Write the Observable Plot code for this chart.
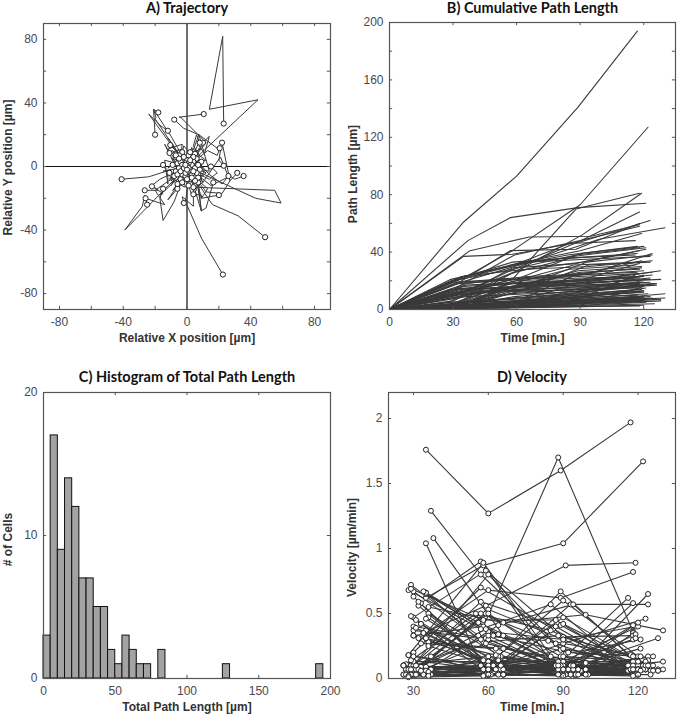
<!DOCTYPE html>
<html><head><meta charset="utf-8">
<script src="https://cdn.jsdelivr.net/npm/d3@7"></script>
<script src="https://cdn.jsdelivr.net/npm/@observablehq/plot@0.6"></script>
<style>
html,body{margin:0;padding:0;background:#fff}
#page{position:relative;width:677px;height:716px;overflow:hidden;background:#fff}
#page svg{position:absolute;background:transparent}
</style></head><body><div id="page"></div>
<script>
// one row per cell, same order in every list; four time points per cell
const cellTimes=[[35,60,89,117],[35,58,90,122],[30,58,88,118],[34,59,91,119],[37,57,89,121],[32,60,89,118],[35,58,90,123],[38,66,95,118],[33,57,88,118],[30,59,90,118],[36,66,99,130],[35,60,90,119],[28,57,85,116],[29,56,84,117],[30,58,88,118],[32,60,90,120],[30,60,91,121],[28,58,88,118],[35,62,92,121],[36,65,95,124],[29,58,87,117],[30,57,86,116],[33,63,93,124],[35,64,93,123],[32,60,90,119],[28,57,87,118],[29,59,89,118],[27,55,85,116],[31,60,89,119],[34,64,94,124],[35,64,94,123],[36,66,99,128],[30,60,90,120],[30,60,90,118],[36,64,94,124],[29,59,89,119],[28,57,87,117],[30,59,89,118],[35,65,95,124],[29,59,89,119],[33,63,93,123],[30,58,87,116],[35,63,93,123],[30,60,90,120],[28,56,85,116],[30,60,90,118],[35,64,97,128],[30,60,90,120],[30,60,90,119],[30,60,90,120],[31,60,90,120],[30,59,88,118],[30,60,89,120],[29,59,90,120],[27,57,87,117],[35,65,95,126],[34,64,94,125],[30,60,90,120],[30,60,89,118],[33,63,93,123],[26,60,90,120],[37,60,90,121],[29,59,89,119],[36,66,96,126],[26,60,90,119],[29,59,90,120],[32,60,90,120],[33,62,92,122],[28,58,88,118],[37,60,90,120],[26,58,88,118],[35,65,99,130],[27,57,87,117],[31,60,90,120],[26,60,90,120],[36,66,96,128],[33,63,93,123],[28,58,88,118],[37,60,90,120],[29,59,89,119],[27,57,87,120],[35,65,100,130],[31,60,90,120],[31,61,91,122],[26,60,90,121],[32,58,88,118],[36,66,99,128],[34,64,94,126],[33,66,96,124],[27,60,90,120],[36,66,96,125],[28,60,90,120],[28,58,88,118]];
const cellPathLengths=[[61,93,141,194],[22,41,73,127],[10,21,70,81],[12,26,52,81],[48,64,71,74],[10,29,47,68],[37,38.5,47,62],[41,50.5,51,59],[19,41,42,60],[14,38,48,58],[20,33,49,57],[23,32,41,53],[19,30,46,48],[21,30,38,44],[20,28,38,43],[18,21,39,44],[3,27,33,42],[5,29,32,41],[23,32,38,43],[18,23,25,39],[20,33,36,39],[6,25,36,38],[14,16,33,38],[23,33,35,37],[19,22,24,34],[2,19,31,33],[14,18,20,32],[3,17,28,31],[14,15,27,30],[23,28,30,34],[2,14,31,33],[10,17,21,27],[19,21,24,27],[1,17,26,28],[17,19,21,26],[3,5,25,29],[2,16,24,26],[12,21,23,25],[16,19,20,24],[1,16,21,23],[14,16,18,22],[1,3,6,24],[11,16,19,21],[3,5,19,23],[1,13,18,20],[2,17,20,22],[13,17,19,21],[4,8,12,24],[5,8,11,20],[11,20,22,23],[12,15,17,19],[2,13,16,18],[10,14,15,17],[1,2,15,19],[2,11,14,16],[11,13,14,17],[12,14,16,18],[1,2,3,16],[2,12,14,15],[9,16,17,19],[3,5,12,16],[5,6,8,15],[1,9,13,17],[9,11,13,18],[3,8,11,14],[4,6,10,13],[2,6,9,12],[3,6,8,11],[5,7,10,14],[2,4,9,13],[1,5,9,12],[3,5,7,11],[2,5,8,10],[2,5,7,9],[3,4,6,8],[1,3,5,7],[3,5,6,9],[2,4,6,8],[1,2,4,6],[2,3,6,7],[1,4,7,9],[2,5,6,8],[1,3,4,6],[3,4,5,7],[1,2,3,5],[2,4,7,9],[2,3,4,6],[1,2,5,7],[2,3,5,8],[1,3,5,6],[1,2,3,4],[0.5,1.5,2,3],[0.5,1,2,2.5]];
const cellVelocities=[[1.76,1.27,1.6,1.97],[0.62,0.87,1.04,1.67],[0.33,0.4,1.7,0.36],[0.35,0.56,0.87,0.89],[1.29,0.8,0.22,0.09],[0.31,0.68,0.62,0.82],[1.04,0.06,0.27,0.46],[1.08,0.33,0.02,0.35],[0.58,0.9,0.05,0.58],[0.47,0.83,0.32,0.33],[0.55,0.43,0.49,0.37],[0.65,0.36,0.3,0.4],[0.68,0.38,0.57,0.07],[0.72,0.33,0.29,0.18],[0.67,0.28,0.33,0.17],[0.56,0.11,0.6,0.17],[0.1,0.8,0.19,0.3],[0.18,0.89,0.1,0.3],[0.66,0.33,0.2,0.17],[0.5,0.17,0.07,0.65],[0.69,0.45,0.45,0.1],[0.2,0.7,0.38,0.07],[0.42,0.07,0.57,0.57],[0.66,0.34,0.07,0.07],[0.59,0.11,0.07,0.34],[0.07,0.59,0.4,0.06],[0.48,0.13,0.07,0.41],[0.11,0.5,0.37,0.1],[0.45,0.03,0.41,0.1],[0.67,0.17,0.07,0.13],[0.06,0.41,0.57,0.07],[0.28,0.23,0.12,0.31],[0.63,0.07,0.1,0.1],[0.03,0.53,0.3,0.07],[0.47,0.07,0.07,0.17],[0.1,0.07,0.67,0.13],[0.07,0.5,0.27,0.07],[0.4,0.31,0.07,0.07],[0.46,0.1,0.03,0.14],[0.03,0.5,0.17,0.07],[0.42,0.07,0.07,0.13],[0.03,0.07,0.1,0.62],[0.31,0.18,0.1,0.07],[0.1,0.07,0.47,0.13],[0.04,0.43,0.17,0.06],[0.07,0.5,0.1,0.07],[0.37,0.14,0.06,0.06],[0.13,0.13,0.13,0.4],[0.17,0.1,0.1,0.31],[0.37,0.3,0.07,0.03],[0.39,0.1,0.07,0.07],[0.07,0.38,0.1,0.07],[0.33,0.13,0.03,0.06],[0.03,0.03,0.42,0.13],[0.07,0.3,0.1,0.07],[0.31,0.07,0.03,0.1],[0.35,0.07,0.07,0.06],[0.03,0.03,0.03,0.43],[0.07,0.33,0.07,0.03],[0.27,0.23,0.03,0.07],[0.1,0.07,0.23,0.13],[0.17,0.03,0.07,0.23],[0.03,0.27,0.13,0.13],[0.25,0.07,0.07,0.17],[0.1,0.17,0.1,0.1],[0.14,0.07,0.13,0.1],[0.07,0.13,0.1,0.1],[0.09,0.1,0.07,0.1],[0.18,0.07,0.1,0.13],[0.07,0.07,0.17,0.13],[0.03,0.14,0.13,0.1],[0.09,0.07,0.07,0.13],[0.07,0.1,0.1,0.07],[0.07,0.1,0.07,0.07],[0.1,0.03,0.07,0.07],[0.03,0.07,0.07,0.07],[0.09,0.07,0.03,0.1],[0.07,0.07,0.07,0.07],[0.03,0.03,0.07,0.07],[0.07,0.03,0.1,0.03],[0.04,0.1,0.1,0.06],[0.06,0.1,0.03,0.07],[0.03,0.07,0.03,0.07],[0.1,0.03,0.03,0.07],[0.03,0.03,0.03,0.06],[0.07,0.07,0.1,0.07],[0.05,0.03,0.03,0.06],[0.03,0.03,0.1,0.06],[0.06,0.03,0.07,0.1],[0.03,0.07,0.07,0.03],[0.02,0.03,0.03,0.03],[0.02,0.03,0.02,0.03],[0.01,0.02,0.03,0.02]];
const cellXs=[[44.5,14,22.4,23],[43,59,55,4],[6,13,9,20],[1,-1,9,22.5],[-39,-28,-26.5,-25],[5,16,32,49],[-20,-19.5,-21,-20],[-24,-17,-17,-12],[12,-4,-5,10.5],[14,7.5,-2,-8],[-15,-10,-24,-41],[-6,-10,-21,-18],[10,21,27,22],[15,27,30,35.5],[12,22,27,31.5],[4,14,22,26],[7.5,21,20,23],[2,9,12,16.5],[-8,-15,-17,-15],[-17,-22,-18,-26.5],[-10,-20,-14,-26],[-3,-17,-15,-22],[4,4,-3,-2],[-12,-9,-6,-10.5],[7,11,14,10],[3,13,19,20.5],[8,4,6,8],[2,14,19,15],[-5,-8,-14,-11],[-14,-12,-12,-15],[2,-4,-11,-11],[6,9,9,4],[7,6,3,1],[-2,-8,-12,-6],[-8,-4,-9,-6],[2,6,9,7],[6,11,6,5],[-4,-3,-12,-7],[7,4,9,7],[-3,-8,-10,-7],[9,4,5,4],[-1,3,-2,-3],[6,3,5,3],[-5,-3,-9,-5],[3,8,9,5],[-6,-11,-9,-7],[8,5,12,8],[3,5,1,2],[-4,-1,-6,-4],[7,10,6,6],[-6,-10,-7,-6],[3,6,5,3],[-2,-6,-3,-2],[3,6,12,9],[-2,-10,-10,-8],[7,10,9,7],[-7,-4,-2,-3],[2,-1,3,1],[0,5,6,4],[-6,-11,-9,-7],[3,5,7,5],[-1,-2,1,-1],[0,-8,-12,-9],[8,5,3,2],[3,6,8,6],[-4,-6,-8,-5],[1,4,2,3],[-3,-5,-4,-2],[4,1,-1,1],[-1,-3,-6,-4],[0,3,6,4],[-3,-4,-5,-3],[1,-1,1,0],[2,4,6,5],[-3,-4,-6,-6],[1,2,3,2],[-2,-3,-2,-1],[2,3,4,3],[-1,-2,-3,-2],[-2,-4,-6,-5],[1,0,1,0],[2,5,6,7],[-1,-2,-3,-3],[3,2,1,1],[-1,-2,-2,-1],[2,3,5,4],[1,2,2,2],[-1,-2,-4,-4],[1,0,-1,0],[-1,-1,-2,-2],[1,2,1,1],[0,-0.5,0,0],[-0.5,-1,-1,-1]];
const cellYs=[[42,36,82,27],[-20,-23,-15,-13],[-8,-14,-20,-18],[-10,-22,-45,-68],[-40,-25,-18,-24],[-8,-24,-31,-44.5],[30,31,36,20],[33,26,26,22.5],[15,31,31,33],[-3,20,24,29.5],[-3,-2,-6.5,-8],[12,19,36,34],[-10,6,-9,15],[-12,-6,-8,-6],[-16,-17,-9,-4],[6,-5,-11,-6],[20,10,4,0.5],[-5,-28,-26,-10],[-22,-34,-20,-14],[-8,-12,-15,-15],[-8,-15,-24,-20],[-5,-18,-17,-12.5],[-12,-25,-19,-23],[18,14,9,13.5],[14,8,19,15],[2,10,7,11.5],[7,13,20,15],[-2,-8,-4,0],[5,2,14,8.5],[4,-11,-4,1],[-6,-11,-6,-4],[-8,-20,-18,-17.5],[-5,-15,-18,-12],[-4,-15,-21,-14],[-8,-11,-15,-11],[-2,-7,-28,-10],[3,-3,-10,-6],[4,14,11,6],[3,-2,-7,-5],[-1,-8,-12,-7],[-3,1,10,9],[2,7,13,9],[2,4,-3,4],[3,11,9,7],[3,11,13,8],[-2,-8,-6,-3],[-6,-10,-4,-2],[-3,-11,-9,-8],[-2,-13,-11,-8],[3,-1,7,5],[-2,6,3,2],[-3,-9,-7,-5],[2,9,7,5],[5,8,4,3],[-3,-9,-8,-6],[-4,-10,-11,-7],[-3,-6,-7,-5],[2,5,9,7],[1,1,-1,3],[3,9,10,7],[-4,-8,-11,-9],[-4,-8,-5,-6],[0,3,-1,1],[4,7,12,9],[-2,-6,-7,-4],[1,-2,-3,-1],[1,3,2,1],[-1,-3,-4,-2],[-1,-2,-5,-3],[2,5,4,3],[3,5,7,6],[-3,-6,-9,-10],[2,4,2,4],[-1,-2,-3,-1],[-1,-3,-4,-5],[-1,-2,-3,-2],[1,3,1,2],[-2,-4,-5,-7],[2,4,5,6],[2,3,6,5],[-2,-5,-7,-8],[0,0,2,1],[1,2,1,1],[1,1,3,2],[-1,-2,-3,-4],[-1,-3,-4,-3],[2,3,4,4],[-1,-3,-2,-3],[1,0,1,0.5],[-1,-1,-2,-1],[0,-1,-1,-1],[-0.5,-1,-2,-2],[0,0.5,1,1]];
// histogram of total path length
const binStarts=[0,5,10,15,20,25,30,35,40,45,50,55,60,65,70,80,125,190];
const binCounts=[3,17,9,14,12,7,7,5,5,2,1,3,2,1,1,2,1,1];
const binWidth=5;

const xTicksA=[-80,-40,0,40,80], minorA=[-80,-60,-40,-20,0,20,40,60,80];
const xTicksB=[0,30,60,90,120], yTicksB=[0,40,80,120,160,200], yMinorB=[0,20,40,60,80,100,120,140,160,180,200];
const xTicksC=[0,50,100,150,200], yTicksC=[0,10,20];
const xTicksD=[30,60,90,120], yTicksD=[0,0.5,1,1.5,2];

const ink="#3a3a3a", axisInk="#555", tickInk="#484850", labelInk="#333";
const page=document.getElementById("page");

// inward ticks on all four sides of the box
function boxTicks(xt,yt,xd,yd){
  const lx=(xd[1]-xd[0])*0.011, ly=(yd[1]-yd[0])*0.011;
  const s={stroke:axisInk,strokeWidth:1};
  return [
    Plot.ruleX(xt,{x:d=>d,y1:yd[0],y2:yd[0]+ly,...s}),
    Plot.ruleX(xt,{x:d=>d,y1:yd[1],y2:yd[1]-ly,...s}),
    Plot.ruleY(yt,{y:d=>d,x1:xd[0],x2:xd[0]+lx,...s}),
    Plot.ruleY(yt,{y:d=>d,x1:xd[1],x2:xd[1]-lx,...s})
  ];
}
function texts(title,xLabel,yLabel,tdy,xdy,ydx,ydy){
  return [
    Plot.text([title],{text:d=>d,frameAnchor:"top",dy:tdy,fontFamily:"Lato",fontWeight:700,fontSize:14.5,fill:"#111"}),
    Plot.text([xLabel],{text:d=>d,frameAnchor:"bottom",dy:xdy,fontFamily:"Liberation Sans",fontWeight:700,fontSize:12,fill:labelInk}),
    Plot.text([yLabel],{text:d=>d,frameAnchor:"left",textAnchor:"middle",dx:ydx,dy:ydy,rotate:-90,fontFamily:"Liberation Sans",fontWeight:700,fontSize:12,fill:labelInk})
  ];
}
function labels(xt,yt){
  const o={tickSize:0,label:null,tickFormat:d=>String(d),color:tickInk,fill:tickInk,fontSize:12,fontFamily:"Liberation Sans"};
  return [Plot.axisX(xt,{...o,anchor:"bottom",tickPadding:8}),Plot.axisY(yt,{...o,anchor:"left",tickPadding:6})];
}
function place(svg,left,top){svg.style.left=left+"px";svg.style.top=top+"px";page.appendChild(svg);}
function base(marginLeft,marginTop,marginBottom,marginRight,width,xd,yd){
  return {width,height:358,marginLeft,marginRight,marginTop,marginBottom,x:{domain:xd},y:{domain:yd},
    style:{fontFamily:"Liberation Sans",fontSize:"12px",background:"transparent",overflow:"visible"}};
}

// A
const pathA=cellXs.flatMap((xs,i)=>[{id:i,x:0,y:0},...xs.map((x,j)=>({id:i,x,y:cellYs[i][j]}))]);
const endsA=cellXs.map((xs,i)=>({x:xs[3],y:cellYs[i][3]}));
const dA=[-90,90];
place(Plot.plot({...base(43,23,49,8,338,dA,dA),marks:[
  Plot.ruleX([0],{stroke:"#111",strokeWidth:1.2}),Plot.ruleY([0],{stroke:"#111",strokeWidth:1.2}),
  Plot.line(pathA,{x:"x",y:"y",z:"id",stroke:ink,strokeWidth:1,curve:"linear"}),
  Plot.dot(endsA,{x:"x",y:"y",r:2.6,fill:"#fff",stroke:"#222",strokeWidth:1}),
  ...boxTicks(minorA,minorA,dA,dA),Plot.frame({stroke:axisInk,strokeWidth:1.2}),...labels(xTicksA,xTicksA),
  ...texts("A) Trajectory","Relative X position [µm]","Relative Y position [µm]",-21,32,-35,1)
]}),0,0);

// B
const pathB=cellTimes.flatMap((ts,i)=>[{id:i,t:0,l:0},...ts.map((t,j)=>({id:i,t,l:cellPathLengths[i][j]}))]);
const xdB=[0,135], ydB=[0,200];
place(Plot.plot({...base(50,22,49,2,338,xdB,ydB),marks:[
  Plot.line(pathB,{x:"t",y:"l",z:"id",stroke:ink,strokeWidth:1.1}),
  ...boxTicks(xTicksB,yMinorB,xdB,ydB),Plot.frame({stroke:axisInk,strokeWidth:1.2}),...labels(xTicksB,yTicksB),
  ...texts("B) Cumulative Path Length","Time [min.]","Path Length [µm]",-20,32,-36,8)
]}),339,0);

// C
const bins=binStarts.map((s,i)=>({x1:s,x2:s+binWidth,y:binCounts[i]}));
const xdC=[0,200], ydC=[0,20];
place(Plot.plot({...base(43,34,38,8,338,xdC,ydC),marks:[
  Plot.rectY(bins,{x1:"x1",x2:"x2",y:"y",fill:"#a3a3a3",stroke:"#111",strokeWidth:1}),
  ...boxTicks(xTicksC,yTicksC,xdC,ydC),Plot.frame({stroke:axisInk,strokeWidth:1.2}),...labels(xTicksC,yTicksC),
  ...texts("C) Histogram of Total Path Length","Total Path Length [µm]","# of Cells",-21,32,-35,4)
]}),0,358);

// D
const pathD=cellTimes.flatMap((ts,i)=>ts.map((t,j)=>({id:i,t,v:cellVelocities[i][j]})));
const xdD=[20,135], ydD=[0,2.2];
place(Plot.plot({...base(49,34,38,2,338,xdD,ydD),marks:[
  Plot.line(pathD,{x:"t",y:"v",z:"id",stroke:ink,strokeWidth:1.1}),
  Plot.dot(pathD,{x:"t",y:"v",r:2.5,fill:"#fff",stroke:"#222",strokeWidth:1}),
  ...boxTicks(xTicksD,yTicksD,xdD,ydD),Plot.frame({stroke:axisInk,strokeWidth:1.2}),...labels(xTicksD,yTicksD),
  ...texts("D) Velocity","Time [min.]","Velocity [µm/min]",-21,32,-36,12)
]}),339,358);
</script></body></html>
